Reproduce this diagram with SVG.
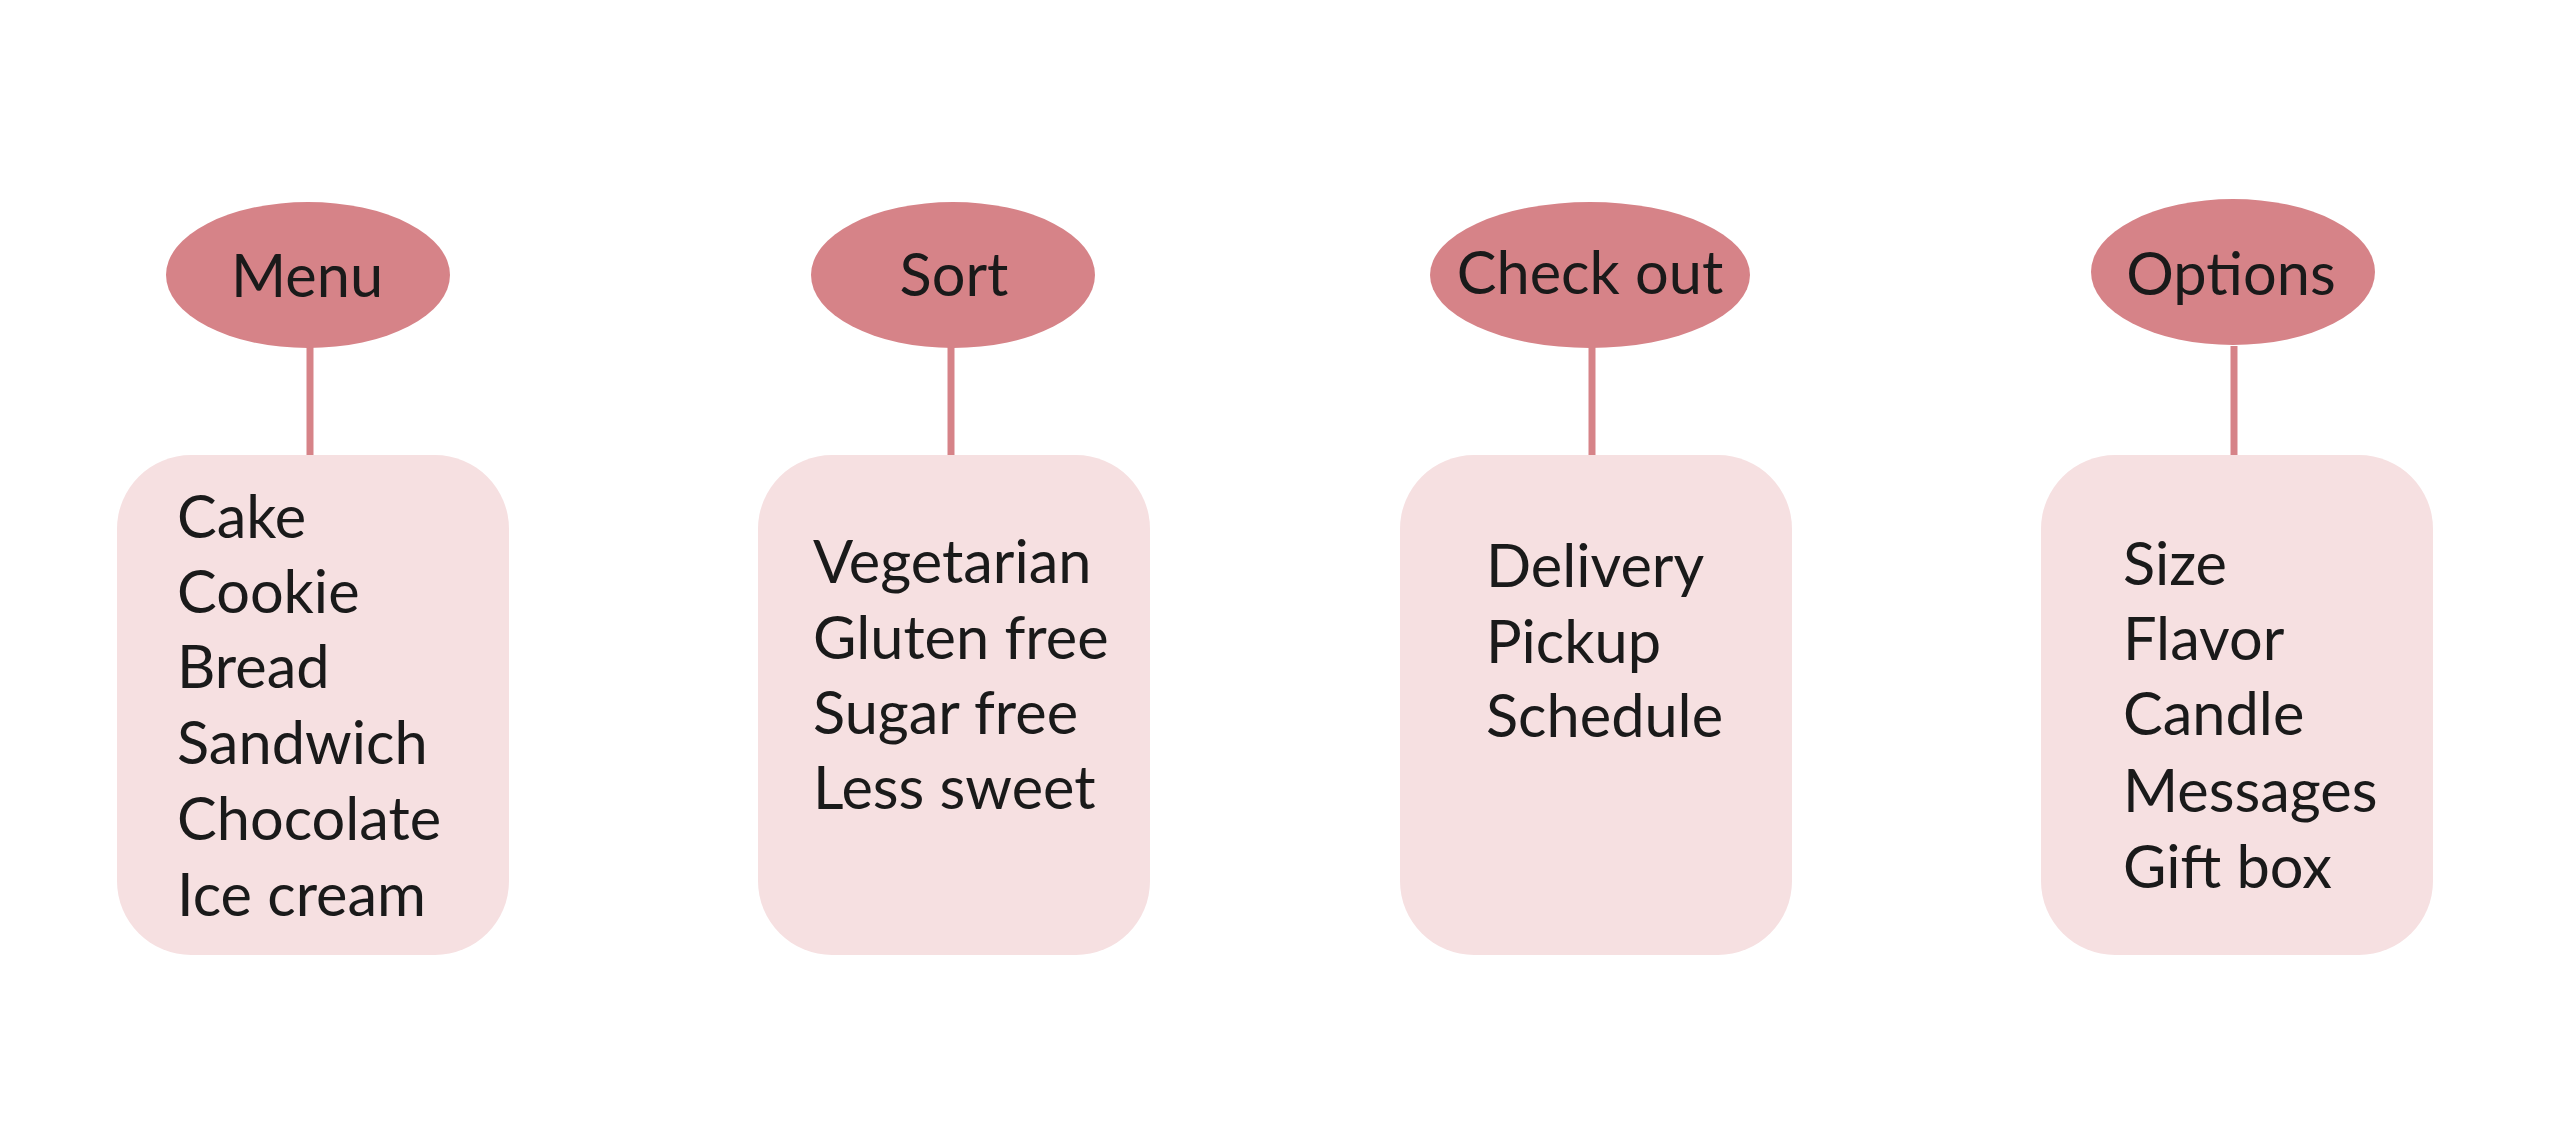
<svg xmlns="http://www.w3.org/2000/svg" width="2564" height="1132" viewBox="0 0 2564 1132">
<style>
.head{fill:#D68388}
.box{fill:#F6E0E1}
.conn{stroke:#D68388;stroke-width:7;fill:none}
text{font-family:Lato,"Open Sans","Liberation Sans",sans-serif;font-size:59.5px;fill:#1a1a1a}
.c{text-anchor:middle}
</style>
<rect width="2564" height="1132" fill="#ffffff"/>
<g id="connectors">
<line class="conn" x1="310" y1="346" x2="310" y2="458"/>
<line class="conn" x1="951" y1="346" x2="951" y2="458"/>
<line class="conn" x1="1592" y1="346" x2="1592" y2="458"/>
<line class="conn" x1="2234" y1="346" x2="2234" y2="458"/>
</g>
<g id="menu">
<ellipse class="head" cx="308" cy="275" rx="142" ry="73"/>
<text class="c" x="307" y="297">Menu</text>
</g>
<g id="menu-items">
<rect class="box" x="117" y="455" width="392" height="500" rx="74"/>
<text x="177" y="538">Cake</text>
<text x="177" y="613">Cookie</text>
<text x="177" y="688">Bread</text>
<text x="177" y="764">Sandwich</text>
<text x="177" y="840">Chocolate</text>
<text x="177" y="916">Ice cream</text>
</g>
<g id="sort">
<ellipse class="head" cx="953" cy="275" rx="142" ry="73"/>
<text class="c" x="954" y="296">Sort</text>
</g>
<g id="sort-items">
<rect class="box" x="758" y="455" width="392" height="500" rx="74"/>
<text x="813" y="583">Vegetarian</text>
<text x="813" y="659">Gluten free</text>
<text x="813" y="734">Sugar free</text>
<text x="813" y="809">Less sweet</text>
</g>
<g id="checkout">
<ellipse class="head" cx="1590" cy="275" rx="160" ry="73"/>
<text class="c" x="1590" y="294">Check out</text>
</g>
<g id="checkout-items">
<rect class="box" x="1400" y="455" width="392" height="500" rx="74"/>
<text x="1486" y="587">Delivery</text>
<text x="1486" y="663">Pickup</text>
<text x="1486" y="737">Schedule</text>
</g>
<g id="options">
<ellipse class="head" cx="2233" cy="272" rx="142" ry="73"/>
<text class="c" x="2231" y="295">Options</text>
</g>
<g id="options-items">
<rect class="box" x="2041" y="455" width="392" height="500" rx="74"/>
<text x="2123" y="585">Size</text>
<text x="2123" y="660">Flavor</text>
<text x="2123" y="735">Candle</text>
<text x="2123" y="812">Messages</text>
<text x="2123" y="888">Gift box</text>
</g>
</svg>
